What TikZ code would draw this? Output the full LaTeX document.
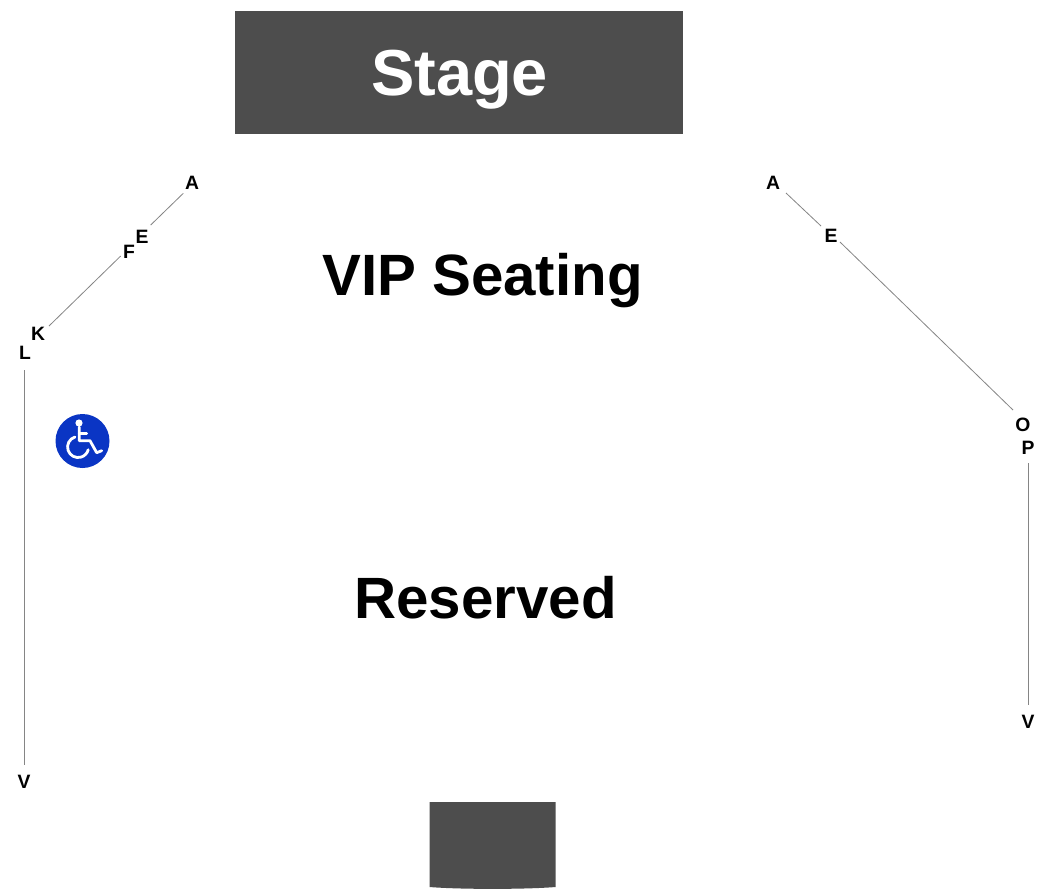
\documentclass[tikz,border=0pt]{standalone}
\usepackage{fontspec}
\setmainfont{Liberation Sans}
\definecolor{block}{HTML}{4D4D4D}
\definecolor{wheel}{HTML}{0A35C4}
\tikzset{
  x=0.75pt,y=-0.75pt,
  rowlabel/.style={font=\fontsize{14.5pt}{14.5pt}\selectfont\bfseries,text=black,inner sep=0pt,yshift=-0.6pt},
  rowline/.style={draw=black!48,line width=0.6pt},
  bigtext/.style={font=\fontsize{43.7pt}{44pt}\selectfont\bfseries,text=black,inner sep=0pt,anchor=base},
  iconline/.style={draw=white,line width=2.1pt,line cap=round,line join=round}
}
\begin{document}
\begin{tikzpicture}
\useasboundingbox (0,0) rectangle (1050,896);
\fill[white] (0,0) rectangle (1050,896);
% stage
\node[fill=block,minimum width=336pt,minimum height=92.25pt,inner sep=0pt,anchor=north west] (stage) at (235,11) {};
\node[font=\fontsize{48.75pt}{49pt}\selectfont\bfseries,text=white,inner sep=0pt,anchor=base] (stagetext) at (459.5,95.5) {Stage};
% main labels
\node[bigtext] (vip) at (482.5,295) {VIP Seating};
\node[bigtext] (res) at (485.5,618.5) {Reserved};
% bottom block
\fill[block] (429.5,802) -- (555.5,802) -- (555.5,887) .. controls (525,889.5) and (460,889.5) .. (429.5,887) -- cycle;
% row labels
\node[rowlabel] (la) at (192,182) {A};
\node[rowlabel] (le) at (142,236) {E};
\node[rowlabel] (lf) at (129,251) {F};
\node[rowlabel] (lk) at (38,333) {K};
\node[rowlabel] (ll) at (25,352) {L};
\node[rowlabel] (lv) at (24,781) {V};
\node[rowlabel] (ra) at (773,182) {A};
\node[rowlabel] (re) at (831,235) {E};
\node[rowlabel] (ro) at (1023,424) {O};
\node[rowlabel] (rp) at (1028,447) {P};
\node[rowlabel] (rv) at (1028,721) {V};
% connectors
\draw[rowline] ([shift={(-8.7,10.5)}]la.center) -- ([shift={(8.7,-11.8)}]le.center);
\draw[rowline] ([shift={(-8.3,4.2)}]lf.center) -- ([shift={(11,-7.8)}]lk.center);
\draw[rowline] ([shift={(-1,17.2)}]ll.center) -- ([shift={(0,-16.8)}]lv.center);
\draw[rowline] ([shift={(13,10.2)}]ra.center) -- ([shift={(-10,-9.8)}]re.center);
\draw[rowline] ([shift={(9,6.2)}]re.center) -- ([shift={(-10,-14.8)}]ro.center);
\draw[rowline] ([shift={(0,15.2)}]rp.center) -- ([shift={(0,-16.8)}]rv.center);
% wheelchair icon
\fill[wheel] (82.5,441) circle[radius=27];
\fill[white] (79,423) circle[radius=3.6];
\draw[iconline] (79.3,427) -- (79.3,440.7) -- (90,440.7) -- (96.7,452.7) -- (101.7,450.7);
\draw[iconline] (79.3,433.3) -- (86.7,433.3);
\draw[iconline] (75,437) arc[start angle=253,end angle=15,radius=10.5];
\end{tikzpicture}
\end{document}
